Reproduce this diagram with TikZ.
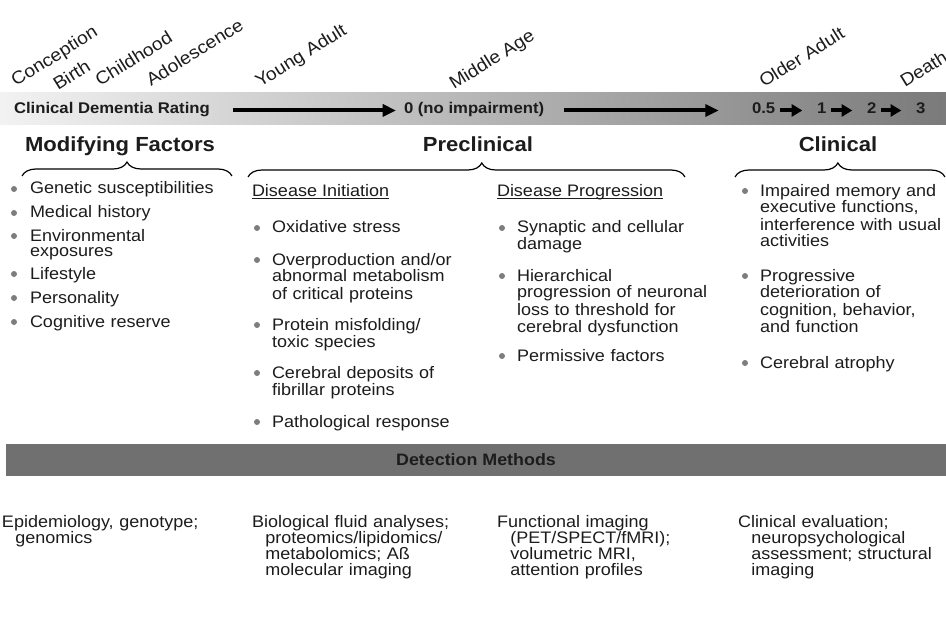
\documentclass[tikz,border=0pt]{standalone}
\usepackage{fontspec}
\setmainfont{Liberation Sans}[FakeStretch=1.08]
\usetikzlibrary{arrows.meta,decorations.pathreplacing}
\definecolor{txt}{RGB}{28,28,28}
\definecolor{dotgray}{RGB}{125,125,125}
\definecolor{bandgray}{RGB}{112,112,112}
\newcommand\indl{\hspace*{10pt}}

\begin{document}
\begin{tikzpicture}[x=0.75pt,y=-0.75pt,
  every node/.style={text=txt,inner sep=0pt,outer sep=0pt},
  age/.style={rotate=32,anchor=base west,font=\fontsize{13.4}{16}\selectfont},
  head/.style={anchor=base,font=\bfseries\fontsize{15.3}{18}\selectfont},
  rating/.style={anchor=base west,font=\bfseries\fontsize{11.6}{14}\selectfont},
  subhead/.style={anchor=base west,font=\fontsize{12.5}{15}\selectfont},
  listtext/.style={anchor=base west,align=left,text width=200pt,font=\fontsize{12.5}{#1}\selectfont},
  listtext/.default=12.75,
  dot/.style={circle,fill=dotgray,minimum size=4.5pt},
  bigarrow/.style={line width=3pt,-{Triangle[length=10pt,width=9pt]}},
  smallarrow/.style={line width=3pt,-{Triangle[length=8pt,width=9pt]},shorten <=3.5pt,shorten >=11pt},
  curly/.style={decorate,decoration={brace,amplitude=10.5pt,aspect=#1},line width=0.9pt},
  curly/.default=0.5,
]
\useasboundingbox (0,0) rectangle (946,624);

% life stages
\foreach \x/\y/\t/\n in {16/87/Conception/conc, 58/91/Birth/birth, 100/87/Childhood/child,
    151/87/Adolescence/adol, 260/88/Young Adult/young, 454/90/Middle Age/middle,
    764/88/Older Adult/older, 905/88/Death/death}
  \node[age] (\n) at (\x,\y) {\t};

% rating band
\shade[left color=black!5,right color=black!52] (0,93) rectangle (946,125);
\node[rating] (cdr) at (14,114) {Clinical Dementia Rating};
\node[rating] (r0) at (404,114) {0 (no impairment)};
\node[rating] (r05) at (752,114) {0.5};
\node[rating] (r1) at (817,114) {1};
\node[rating] (r2) at (867,114) {2};
\node[rating] (r3) at (916,114) {3};
\draw[bigarrow,shorten <=17pt,shorten >=6pt] (cdr.mid east) -- (r0.mid west);
\draw[bigarrow,shorten <=15pt,shorten >=25pt] (r0.mid east) -- (r05.mid west);
\draw[smallarrow] (r05.mid east) -- (r1.mid west);
\draw[smallarrow] (r1.mid east) -- (r2.mid west);
\draw[smallarrow] (r2.mid east) -- (r3.mid west);

% headings and braces
\node[head] (modf) at (120,152) {Modifying Factors};
\node[head] (precl) at (478,152) {Preclinical};
\node[head] (clin) at (838,152) {Clinical};
\coordinate (mfL) at (22,176);
\coordinate (mfR) at (232,176);
\coordinate (prL) at (248,177);
\coordinate (prR) at (685,177);
\coordinate (clL) at (735,177);
\coordinate (clR) at (945,177);
\draw[curly] (mfL) -- (mfR);
\draw[curly=0.535] (prL) -- (prR);
\draw[curly=0.49] (clL) -- (clR);

% modifying factors
\foreach \yy/\t [count=\i] in {194/Genetic susceptibilities, 218/Medical history,
    241/{Environmental\\exposures}, 279/Lifestyle, 303/Personality, 327/Cognitive reserve}{
  \node[dot] (mfd\i) at (14,\yy-5) {};
  \node[listtext=11.25] (mf\i) at (30,\yy) {\t};
}

% preclinical
\node[subhead] (dinit) at (252,196) {Disease Initiation};
\node[subhead] (dprog) at (497,196) {Disease Progression};
\draw[line width=0.6pt,txt] ([yshift=-1.6pt]dinit.base west) -- ([yshift=-1.6pt]dinit.base east);
\draw[line width=0.6pt,txt] ([yshift=-1.6pt]dprog.base west) -- ([yshift=-1.6pt]dprog.base east);
\foreach \yy/\t [count=\i] in {233/Oxidative stress,
    265/{Overproduction and/or\\abnormal metabolism\\of critical proteins},
    330/{Protein misfolding/\\toxic species}, 378/{Cerebral deposits of\\fibrillar proteins},
    427/Pathological response}{
  \node[dot] (did\i) at (257,\yy-5) {};
  \node[listtext] (di\i) at (272,\yy) {\t};
}
\foreach \yy/\t [count=\i] in {233/{Synaptic and cellular\\damage},
    281/{Hierarchical\\progression of neuronal\\loss to threshold for\\cerebral dysfunction},
    361/Permissive factors}{
  \node[dot] (dpd\i) at (502,\yy-5) {};
  \node[listtext] (dp\i) at (517,\yy) {\t};
}

% clinical
\foreach \yy/\t [count=\i] in {196/{Impaired memory and\\executive functions,\\interference with usual\\activities},
    281/{Progressive\\deterioration of\\cognition, behavior,\\and function},
    368/Cerebral atrophy}{
  \node[dot] (cld\i) at (745,\yy-5) {};
  \node[listtext] (cl\i) at (760,\yy) {\t};
}

% detection methods
\fill[bandgray] (6,444) rectangle (946,476);
\node[anchor=base,font=\bfseries\fontsize{12.4}{14}\selectfont] (detect) at (476,465) {Detection Methods};
\node[listtext=12] (dm1) at (2,527) {Epidemiology, genotype;\\\indl genomics};
\node[listtext=12] (dm2) at (252,527) {Biological fluid analyses;\\\indl proteomics/lipidomics/\\\indl metabolomics; Aß\\\indl molecular imaging};
\node[listtext=12] (dm3) at (497,527) {Functional imaging\\\indl (PET/SPECT/fMRI);\\\indl volumetric MRI,\\\indl attention profiles};
\node[listtext=12] (dm4) at (738,527) {Clinical evaluation;\\\indl neuropsychological\\\indl assessment; structural\\\indl imaging};
\end{tikzpicture}
\end{document}
